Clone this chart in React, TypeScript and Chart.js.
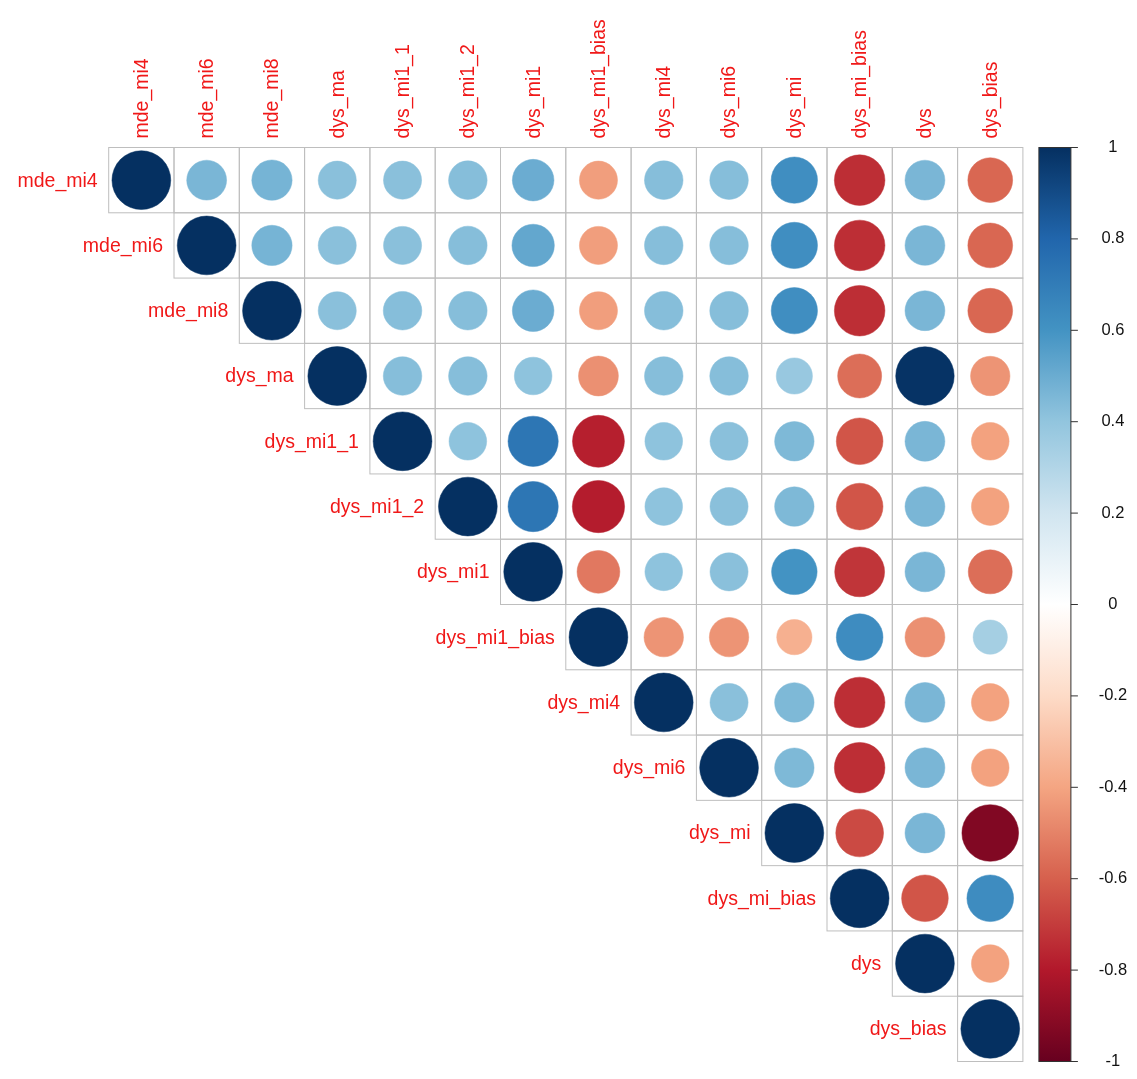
import React, { useEffect, useRef } from "react";
import { Chart, registerables } from "chart.js";

Chart.register(...registerables);

// Variable names, in matrix order (rows top→bottom, columns left→right)
const variables = [
  "mde_mi4",
  "mde_mi6",
  "mde_mi8",
  "dys_ma",
  "dys_mi1_1",
  "dys_mi1_2",
  "dys_mi1",
  "dys_mi1_bias",
  "dys_mi4",
  "dys_mi6",
  "dys_mi",
  "dys_mi_bias",
  "dys",
  "dys_bias",
];

// Upper-triangle correlations: each row starts at its own diagonal cell
const rowMdeMi4 = [1, 0.46, 0.47, 0.42, 0.42, 0.43, 0.5, -0.42, 0.43, 0.43, 0.62, -0.74, 0.46, -0.58];
const rowMdeMi6 = [1, 0.47, 0.42, 0.42, 0.43, 0.52, -0.42, 0.43, 0.43, 0.62, -0.74, 0.46, -0.58];
const rowMdeMi8 = [1, 0.42, 0.43, 0.43, 0.5, -0.42, 0.43, 0.43, 0.62, -0.74, 0.46, -0.58];
const rowDysMa = [1, 0.43, 0.43, 0.41, -0.46, 0.43, 0.43, 0.38, -0.56, 0.99, -0.45];
const rowDysMi1_1 = [1, 0.41, 0.73, -0.78, 0.41, 0.42, 0.45, -0.63, 0.46, -0.41];
const rowDysMi1_2 = [1, 0.73, -0.79, 0.41, 0.42, 0.45, -0.63, 0.46, -0.41];
const rowDysMi1 = [1, -0.53, 0.41, 0.42, 0.6, -0.72, 0.46, -0.56];
const rowDysMi1Bias = [1, -0.45, -0.45, -0.36, 0.63, -0.46, 0.34];
const rowDysMi4 = [1, 0.42, 0.45, -0.74, 0.46, -0.41];
const rowDysMi6 = [1, 0.45, -0.74, 0.46, -0.41];
const rowDysMi = [1, -0.66, 0.46, -0.93];
const rowDysMiBias = [1, -0.63, 0.63];
const rowDys = [1, -0.41];
const rowDysBias = [1];

const upperRows = [
  rowMdeMi4,
  rowMdeMi6,
  rowMdeMi8,
  rowDysMa,
  rowDysMi1_1,
  rowDysMi1_2,
  rowDysMi1,
  rowDysMi1Bias,
  rowDysMi4,
  rowDysMi6,
  rowDysMi,
  rowDysMiBias,
  rowDys,
  rowDysBias,
];

// Colour-key tick values
const legendTicks = [1, 0.8, 0.6, 0.4, 0.2, 0, -0.2, -0.4, -0.6, -0.8, -1];

// Diverging red-blue palette from -1 to 1
const paletteStops = [
  "#67001F",
  "#B2182B",
  "#D6604D",
  "#F4A582",
  "#FDDBC7",
  "#FFFFFF",
  "#D1E5F0",
  "#92C5DE",
  "#4393C3",
  "#2166AC",
  "#053061",
];

const hexToRgb = (h: string) => [
  parseInt(h.slice(1, 3), 16),
  parseInt(h.slice(3, 5), 16),
  parseInt(h.slice(5, 7), 16),
];

function colorFor(v: number): string {
  const t = ((Math.max(-1, Math.min(1, v)) + 1) / 2) * (paletteStops.length - 1);
  const i = Math.min(paletteStops.length - 2, Math.floor(t));
  const f = t - i;
  const a = hexToRgb(paletteStops[i]);
  const b = hexToRgb(paletteStops[i + 1]);
  const c = a.map((av, k) => Math.round(av + (b[k] - av) * f));
  return `rgb(${c[0]},${c[1]},${c[2]})`;
}

const LABEL_FONT = '19.5px "Liberation Sans", Arial, sans-serif';
const LEGEND_FONT = '16.5px "Liberation Sans", Arial, sans-serif';
const LABEL_COLOR = "#F01818";

const matrixPlugin = {
  id: "corrMatrix",
  beforeDatasetsDraw(chart: any) {
    const { ctx, scales } = chart;
    const xs = scales.x;
    const ys = scales.y;
    const n = variables.length;
    ctx.save();
    ctx.strokeStyle = "#BEBEBE";
    ctx.lineWidth = 1;
    for (let i = 0; i < n; i++) {
      for (let j = i; j < n; j++) {
        const x0 = xs.getPixelForValue(j);
        const x1 = xs.getPixelForValue(j + 1);
        const y0 = ys.getPixelForValue(i);
        const y1 = ys.getPixelForValue(i + 1);
        ctx.strokeRect(x0, y0, x1 - x0, y1 - y0);
      }
    }
    ctx.restore();
  },
  afterDraw(chart: any) {
    const { ctx, scales, chartArea } = chart;
    const xs = scales.x;
    const ys = scales.y;
    ctx.save();
    ctx.font = LABEL_FONT;
    ctx.fillStyle = LABEL_COLOR;

    // column labels, rotated, above the grid
    variables.forEach((name, j) => {
      const cx = xs.getPixelForValue(j + 0.5);
      ctx.save();
      ctx.translate(cx, chartArea.top - 9);
      ctx.rotate(-Math.PI / 2);
      ctx.textAlign = "left";
      ctx.textBaseline = "middle";
      ctx.fillText(name, 0, 1);
      ctx.restore();
    });

    // row labels, right-aligned against each diagonal cell
    variables.forEach((name, i) => {
      const cy = ys.getPixelForValue(i + 0.5);
      const xr = xs.getPixelForValue(i) - 11;
      ctx.textAlign = "right";
      ctx.textBaseline = "middle";
      ctx.fillText(name, xr, cy + 1);
    });

    // colour key
    const barLeft = chartArea.right + 16;
    const barWidth = 32;
    const vy = (v: number) => ys.getPixelForValue(((1 - v) / 2) * variables.length);
    const top = vy(1);
    const bottom = vy(-1);
    const grad = ctx.createLinearGradient(0, top, 0, bottom);
    paletteStops
      .slice()
      .reverse()
      .forEach((c, k) => grad.addColorStop(k / (paletteStops.length - 1), c));
    ctx.fillStyle = grad;
    ctx.fillRect(barLeft, top, barWidth, bottom - top);
    ctx.strokeStyle = "#333333";
    ctx.lineWidth = 1;
    ctx.strokeRect(barLeft, top, barWidth, bottom - top);

    ctx.font = LEGEND_FONT;
    ctx.fillStyle = "#111111";
    ctx.textAlign = "center";
    ctx.textBaseline = "middle";
    legendTicks.forEach((v) => {
      const y = vy(v);
      ctx.beginPath();
      ctx.moveTo(barLeft + barWidth, y);
      ctx.lineTo(barLeft + barWidth + 7, y);
      ctx.stroke();
      ctx.fillText(String(v), barLeft + barWidth + 42, y);
    });
    ctx.restore();
  },
};

export default function App() {
  const canvasRef = useRef<HTMLCanvasElement | null>(null);

  useEffect(() => {
    const canvas = canvasRef.current;
    if (!canvas) return;

    const points: { x: number; y: number; v: number }[] = [];
    upperRows.forEach((row, i) => {
      row.forEach((v, k) => {
        points.push({ x: i + k + 0.5, y: i + 0.5, v });
      });
    });

    const cellPx = (chart: any) => {
      const xs = chart.scales.x;
      return Math.abs(xs.getPixelForValue(1) - xs.getPixelForValue(0));
    };

    const chart = new Chart(canvas, {
      type: "scatter",
      data: {
        datasets: [
          {
            data: points as any,
            pointStyle: "circle",
            pointRadius: (ctx: any) =>
              ctx.raw ? 0.45 * Math.sqrt(Math.abs(ctx.raw.v)) * cellPx(ctx.chart) : 0,
            pointHoverRadius: (ctx: any) =>
              ctx.raw ? 0.45 * Math.sqrt(Math.abs(ctx.raw.v)) * cellPx(ctx.chart) : 0,
            pointBackgroundColor: (ctx: any) => (ctx.raw ? colorFor(ctx.raw.v) : "#fff"),
            pointBorderColor: (ctx: any) => (ctx.raw ? colorFor(ctx.raw.v) : "#fff"),
            pointBorderWidth: 0.5,
          },
        ],
      },
      options: {
        responsive: false,
        animation: false,
        devicePixelRatio: 1,
        events: [],
        layout: {
          padding: { left: 108.7, top: 147.5, right: 114.1, bottom: 17.5 },
        },
        plugins: {
          legend: { display: false },
          tooltip: { enabled: false },
          title: { display: false },
        },
        scales: {
          x: { type: "linear", min: 0, max: variables.length, display: false },
          y: { type: "linear", min: 0, max: variables.length, reverse: true, display: false },
        },
      },
      plugins: [matrixPlugin],
    });

    return () => chart.destroy();
  }, []);

  return (
    <div
      style={{
        position: "absolute",
        left: 0,
        top: 0,
        width: 1137,
        height: 1079,
        background: "#ffffff",
      }}
    >
      <canvas ref={canvasRef} width={1137} height={1079} />
    </div>
  );
}
